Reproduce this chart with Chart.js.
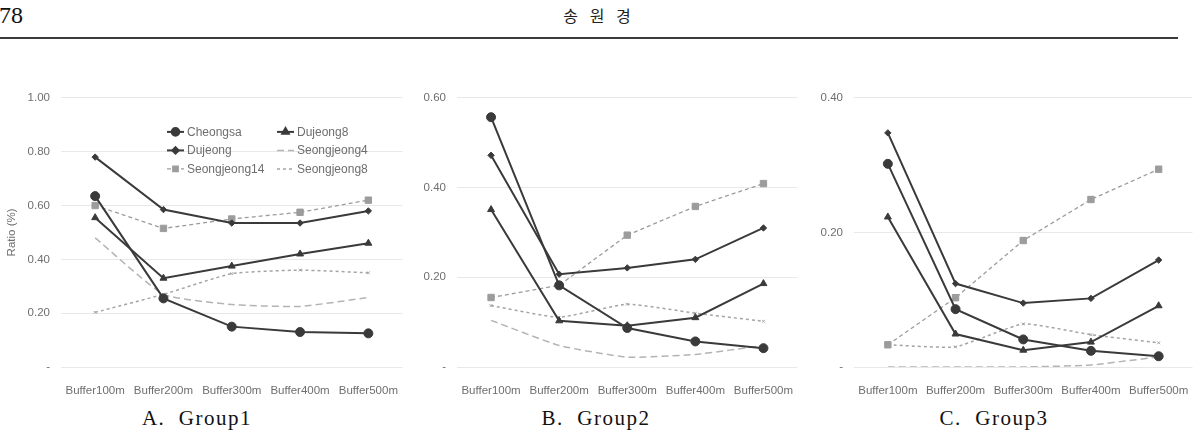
<!DOCTYPE html>
<html>
<head>
<meta charset="utf-8">
<script src="https://cdn.jsdelivr.net/npm/chart.js@4/dist/chart.umd.min.js"></script>
<style>
    body { margin: 0; background: #fff; width: 1198px; height: 435px; overflow: hidden; position: relative; }
    .pageno { position: absolute; left: -1px; top: 2px; font: 24px "Liberation Serif", serif; color: #111; }
    .author { position: absolute; left: 0; width: 1198px; top: 3px; text-align: center; font: 16px "Noto Sans CJK KR", sans-serif; letter-spacing: 4px; color: #222; }
    .rule { position: absolute; left: 0; top: 37px; width: 1178px; height: 2px; background: #3a3a3a; }
    canvas { position: absolute; top: 80px; }
    .caption { position: absolute; top: 406px; width: 300px; text-align: center; font: 21px "Liberation Serif", serif; letter-spacing: 1.5px; color: #111; white-space: pre; }
</style>
</head>
<body>
<div class="pageno">78</div>
<div class="author">송 원 경</div>
<div class="rule"></div>

<canvas id="chartA" width="408" height="320" style="left:0px"></canvas>
<canvas id="chartB" width="403" height="320" style="left:400px"></canvas>
<canvas id="chartC" width="398" height="320" style="left:800px"></canvas>

<div class="caption" style="left:47px">A.  Group1</div>
<div class="caption" style="left:446px">B.  Group2</div>
<div class="caption" style="left:844px">C.  Group3</div>

<script>
// data
const categories = ['Buffer100m', 'Buffer200m', 'Buffer300m', 'Buffer400m', 'Buffer500m'];
const seriesNames = ['Cheongsa', 'Dujeong8', 'Dujeong', 'Seongjeong4', 'Seongjeong14', 'Seongjeong8'];

// Group1
const g1Cheongsa = [0.635, 0.255, 0.150, 0.130, 0.125];
const g1Dujeong8 = [0.555, 0.330, 0.375, 0.420, 0.460];
const g1Dujeong = [0.780, 0.585, 0.535, 0.535, 0.580];
const g1Seongjeong4 = [0.480, 0.270, 0.232, 0.225, 0.258];
const g1Seongjeong14 = [0.600, 0.515, 0.550, 0.575, 0.620];
const g1Seongjeong8 = [0.203, 0.270, 0.347, 0.360, 0.350];

// Group2
const g2Cheongsa = [0.557, 0.182, 0.087, 0.057, 0.042];
const g2Dujeong8 = [0.351, 0.103, 0.092, 0.110, 0.186];
const g2Dujeong = [0.472, 0.207, 0.221, 0.240, 0.310];
const g2Seongjeong4 = [0.104, 0.048, 0.022, 0.028, 0.048];
const g2Seongjeong14 = [0.155, 0.182, 0.294, 0.358, 0.409];
const g2Seongjeong8 = [0.137, 0.111, 0.140, 0.120, 0.102];

// Group3
const g3Cheongsa = [0.302, 0.086, 0.041, 0.024, 0.016];
const g3Dujeong8 = [0.223, 0.049, 0.025, 0.037, 0.091];
const g3Dujeong = [0.348, 0.124, 0.095, 0.102, 0.159];
const g3Seongjeong4 = [0.000, 0.000, 0.000, 0.003, 0.015];
const g3Seongjeong14 = [0.033, 0.103, 0.188, 0.249, 0.294];
const g3Seongjeong8 = [0.033, 0.030, 0.064, 0.048, 0.036];

const yMax = [1.0, 0.6, 0.4];

// series styles (Excel-like greyscale)
const styles = [
    { color: '#3a3a3a', point: 'circle', radius: 4.5, dash: [], width: 2, tension: 0 },
    { color: '#3a3a3a', point: 'triangle', radius: 4, dash: [], width: 2, tension: 0 },
    { color: '#3a3a3a', point: 'rectRot', radius: 3.2, dash: [], width: 2, tension: 0 },
    { color: '#b4b4b4', point: false, radius: 0, dash: [7, 4], width: 1.5, tension: 0.15 },
    { color: '#9c9c9c', point: 'rect', radius: 4.5, dash: [4, 3], width: 1.3, tension: 0 },
    { color: '#a4a4a4', point: 'crossRot', radius: 2, dash: [3, 3], width: 1.5, tension: 0.15 }
];

const tickFont = { family: "'Liberation Sans', Arial, sans-serif", size: 11.5 };
const tickColor = '#6e6e6e';

function buildDatasets(values) {
    return values.map((vals, i) => {
        const s = styles[i];
        return {
            label: seriesNames[i],
            data: vals,
            borderColor: s.color,
            backgroundColor: s.color,
            borderWidth: s.width,
            borderDash: s.dash,
            pointStyle: s.point,
            pointRadius: s.radius,
            pointBorderWidth: 1,
            pointBorderColor: s.color,
            pointBackgroundColor: s.color,
            tension: s.tension,
            fill: false
        };
    });
}

// legend laid out in two columns inside the plot, like the Excel one
const insideLegend = {
    id: 'insideLegend',
    afterDraw(chart) {
        const ctx = chart.ctx;
        const area = chart.chartArea;
        ctx.save();
        ctx.font = "12px 'Liberation Sans', Arial, sans-serif";
        ctx.textBaseline = 'middle';
        chart.data.datasets.forEach((ds, i) => {
            const col = i % 2, row = Math.floor(i / 2);
            const x = area.left + 106 + col * 110;
            const y = area.top + 34 + row * 18.5;
            ctx.strokeStyle = ds.borderColor;
            ctx.lineWidth = ds.borderWidth;
            ctx.setLineDash(ds.borderDash);
            ctx.beginPath();
            ctx.moveTo(x, y);
            ctx.lineTo(x + 17, y);
            ctx.stroke();
            ctx.setLineDash([]);
            if (ds.pointStyle && ds.pointStyle !== 'crossRot') {
                ctx.fillStyle = ds.pointBackgroundColor;
                Chart.helpers.drawPoint(ctx, {
                    pointStyle: ds.pointStyle,
                    radius: Math.min(ds.pointRadius, 3.8),
                    borderWidth: 1
                }, x + 8.5, y);
            }
            ctx.fillStyle = tickColor;
            ctx.fillText(ds.label, x + 20, y + 0.5);
        });
        ctx.restore();
    }
};

function makeChart(id, values, max, yWidth, showTitle) {
    const plugins = showTitle ? [insideLegend] : [];
    return new Chart(document.getElementById(id), {
        type: 'line',
        data: { labels: categories, datasets: buildDatasets(values) },
        plugins: plugins,
        options: {
            responsive: false,
            animation: false,
            layout: { padding: { top: 16, right: 0, bottom: 0, left: 0 } },
            plugins: { legend: { display: false }, tooltip: { enabled: false } },
            scales: {
                x: {
                    offset: true,
                    grid: { display: false },
                    border: { display: false },
                    ticks: { font: tickFont, color: tickColor, padding: 9, maxRotation: 0, autoSkip: false },
                    afterFit(scale) { scale.height = 33; }
                },
                y: {
                    min: 0,
                    max: max,
                    grid: { color: '#e8e8e8', lineWidth: 1, drawTicks: false },
                    border: { display: false },
                    ticks: {
                        stepSize: 0.2,
                        font: tickFont,
                        color: tickColor,
                        padding: 11,
                        callback: v => v === 0 ? '-' : Number(v).toFixed(2)
                    },
                    title: {
                        display: showTitle,
                        text: 'Ratio (%)',
                        font: tickFont,
                        color: tickColor,
                        padding: { top: 5, bottom: 0 }
                    },
                    afterFit(scale) { scale.width = yWidth; }
                }
            }
        }
    });
}

document.addEventListener('DOMContentLoaded', () => {
    makeChart('chartA', [g1Cheongsa, g1Dujeong8, g1Dujeong, g1Seongjeong4, g1Seongjeong14, g1Seongjeong8], yMax[0], 61, true);
    makeChart('chartB', [g2Cheongsa, g2Dujeong8, g2Dujeong, g2Seongjeong4, g2Seongjeong14, g2Seongjeong8], yMax[1], 57, false);
    makeChart('chartC', [g3Cheongsa, g3Dujeong8, g3Dujeong, g3Seongjeong4, g3Seongjeong14, g3Seongjeong8], yMax[2], 54, false);
});
</script>
</body>
</html>
